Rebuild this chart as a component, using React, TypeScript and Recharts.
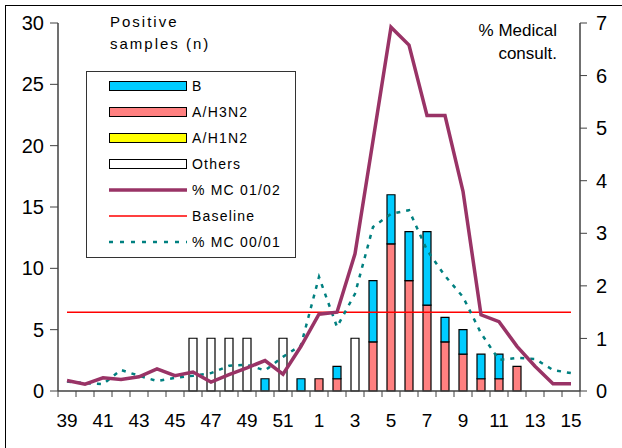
import React from 'react';
import { ComposedChart, Bar, Line, XAxis, YAxis, Legend } from 'recharts';

const weeks = ['39','40','41','42','43','44','45','46','47','48','49','50','51','52','1','2','3','4','5','6','7','8','9','10','11','12','13','14','15'];
const bValues = [0,0,0,0,0,0,0,0,0,0,0,1,0,1, 0,1,0,5,4,4,6,2,2,2,2,0,0,0,0];
const h3n2Values = [0,0,0,0,0,0,0,0,0,0,0,0,0,0, 1,1,0,4,12,9,7,4,3,1,1,2,0,0,0];
const h1n2Values = [0,0,0,0,0,0,0,0,0,0,0,0,0,0, 0,0,0,0,0,0,0,0,0,0,0,0,0,0,0];
const othersValues = [0,0,0,0,0,0,0,4.3,4.3,4.3,4.3,0,4.3,0, 0,0,4.3,0,0,0,0,0,0,0,0,0,0,0,0];
const mc0102 = [0.20,0.13,0.25,0.22,0.27,0.42,0.29,0.36,0.17,0.31,0.44,0.58,0.32,0.85, 1.46,1.50,2.61,4.76,6.92,6.58,5.24,5.24,3.80,1.45,1.32,0.85,0.47,0.14,0.14];
const baseline = [1.5,1.5,1.5,1.5,1.5,1.5,1.5,1.5,1.5,1.5,1.5,1.5,1.5,1.5, 1.5,1.5,1.5,1.5,1.5,1.5,1.5,1.5,1.5,1.5,1.5,1.5,1.5,1.5,1.5];
const mc0001 = [0.18,0.15,0.13,0.40,0.29,0.19,0.25,0.29,0.34,0.48,0.50,0.39,0.65,0.87, 2.17,1.22,1.85,3.12,3.37,3.44,2.68,2.19,1.79,1.10,0.59,0.63,0.61,0.40,0.34];
const leftTicks = [0,5,10,15,20,25,30];
const rightTicks = [0,1,2,3,4,5,6,7];

const data = weeks.map((w, i) => ({
  week: w,
  b: bValues[i],
  h3n2: h3n2Values[i],
  h1n2: h1n2Values[i],
  others: othersValues[i],
  mc0102: mc0102[i],
  baseline: baseline[i],
  mc0001: mc0001[i],
}));

const FONT = '"Liberation Sans", Arial, sans-serif';
const AXIS = '#404040';

const XTick = (props: any) => {
  const { x, y, payload, index } = props;
  const half = payload && payload.offset ? payload.offset : 9;
  const last = index === weeks.length - 1;
  return (
    <g>
      <line x1={x - half} x2={x - half} y1={y} y2={y + 6} stroke={AXIS} strokeWidth={1} />
      {last && <line x1={x + half} x2={x + half} y1={y} y2={y + 6} stroke={AXIS} strokeWidth={1} />}
      {index % 2 === 0 && (
        <text x={x} y={y + 36} textAnchor="middle" fontSize={19} fontFamily={FONT} fill="#000">
          {payload.value}
        </text>
      )}
    </g>
  );
};

const legendItems = [
  { name: 'B', kind: 'box', color: '#00CCFF' },
  { name: 'A/H3N2', kind: 'box', color: '#FF8080' },
  { name: 'A/H1N2', kind: 'box', color: '#FFFF00' },
  { name: 'Others', kind: 'box', color: '#FFFFFF' },
  { name: '% MC 01/02', kind: 'line', color: '#993366' },
  { name: 'Baseline', kind: 'thin', color: '#FF0000' },
  { name: '% MC 00/01', kind: 'dots', color: '#008080' },
];

const LegendBox = () => (
  <div
    style={{
      width: 210,
      height: 187,
      border: '1px solid #333',
      background: '#fff',
      boxSizing: 'border-box',
      position: 'relative',
      fontFamily: FONT,
      fontSize: 14,
      letterSpacing: 1.2,
      color: '#000',
    }}
  >
    {legendItems.map((it, i) => {
      const cy = 14 + i * 26;
      return (
        <div key={it.name} style={{ position: 'absolute', left: 0, top: cy - 10, height: 20, width: 210 }}>
          <svg width={84} height={20} style={{ position: 'absolute', left: 20, top: 0 }}>
            {it.kind === 'box' && (
              <rect x={2.5} y={5.5} width={77} height={9} fill={it.color} stroke="#000" strokeWidth={1} />
            )}
            {it.kind === 'line' && <line x1={2} x2={80} y1={10} y2={10} stroke={it.color} strokeWidth={3.5} />}
            {it.kind === 'thin' && <line x1={2} x2={80} y1={10} y2={10} stroke={it.color} strokeWidth={1.5} />}
            {it.kind === 'dots' && (
              <line x1={2} x2={80} y1={10} y2={10} stroke={it.color} strokeWidth={2.5} strokeDasharray="4 7" />
            )}
          </svg>
          <span style={{ position: 'absolute', left: 105, top: 1, lineHeight: '18px', whiteSpace: 'nowrap' }}>
            {it.name}
          </span>
        </div>
      );
    })}
  </div>
);

export default function App() {
  return (
    <div style={{ position: 'absolute', left: 0, top: 0, width: 622, height: 448, overflow: 'hidden', background: '#fff' }}>
      <div
        style={{
          position: 'absolute',
          left: 5,
          top: 5,
          width: 640,
          height: 460,
          borderLeft: '1px solid #000',
          borderTop: '1px solid #000',
        }}
      />
      <ComposedChart
        width={622}
        height={448}
        data={data}
        margin={{ top: 23, right: 0, bottom: 0, left: 0 }}
        barSize={8}
      >
        <XAxis
          dataKey="week"
          height={57}
          interval={0}
          tickLine={false}
          tickSize={0}
          tickMargin={0}
          tick={<XTick />}
          axisLine={{ stroke: AXIS, strokeWidth: 1.5 }}
        />
        <YAxis
          yAxisId="left"
          width={58}
          domain={[0, 30]}
          ticks={leftTicks}
          interval={0}
          tickSize={8}
          tickMargin={6}
          axisLine={{ stroke: AXIS, strokeWidth: 1.5 }}
          tickLine={{ stroke: AXIS }}
          tick={{ fontSize: 20, fontFamily: FONT, fill: '#000' }}
        />
        <YAxis
          yAxisId="right"
          orientation="right"
          width={42}
          domain={[0, 7]}
          ticks={rightTicks}
          interval={0}
          tickSize={7}
          tickMargin={9}
          axisLine={{ stroke: AXIS, strokeWidth: 1.5 }}
          tickLine={{ stroke: AXIS }}
          tick={{ fontSize: 20, fontFamily: FONT, fill: '#000' }}
        />
        <Legend
          layout="vertical"
          align="center"
          verticalAlign="middle"
          content={() => <LegendBox />}
          wrapperStyle={{ position: 'absolute', left: 86, top: 71, width: 210, height: 187 }}
        />
        <Bar yAxisId="left" dataKey="h3n2" name="A/H3N2" stackId="s" fill="#FF8080" stroke="#000" strokeWidth={1.2} isAnimationActive={false} />
        <Bar yAxisId="left" dataKey="h1n2" name="A/H1N2" stackId="s" fill="#FFFF00" stroke="#000" strokeWidth={1.2} isAnimationActive={false} />
        <Bar yAxisId="left" dataKey="b" name="B" stackId="s" fill="#00CCFF" stroke="#000" strokeWidth={1.2} isAnimationActive={false} />
        <Bar yAxisId="left" dataKey="others" name="Others" stackId="s" fill="#FFFFFF" stroke="#000" strokeWidth={1.2} isAnimationActive={false} />
        <Line yAxisId="right" dataKey="baseline" name="Baseline" stroke="#FF0000" strokeWidth={1.5} dot={false} activeDot={false} isAnimationActive={false} />
        <Line yAxisId="right" dataKey="mc0001" name="% MC 00/01" stroke="#008080" strokeWidth={2.5} strokeDasharray="4 6" dot={false} activeDot={false} isAnimationActive={false} />
        <Line yAxisId="right" dataKey="mc0102" name="% MC 01/02" stroke="#993366" strokeWidth={3.5} dot={false} activeDot={false} isAnimationActive={false} />
      </ComposedChart>
      <div style={{ position: 'absolute', left: 110, top: 11, fontFamily: FONT, fontSize: 15, letterSpacing: 2, lineHeight: '22px', color: '#000' }}>
        <div>Positive</div>
        <div>samples (n)</div>
      </div>
      <div style={{ position: 'absolute', right: 65, top: 19, fontFamily: FONT, fontSize: 17, lineHeight: '23px', textAlign: 'right', color: '#000' }}>
        <div>% Medical</div>
        <div>consult.</div>
      </div>
    </div>
  );
}
